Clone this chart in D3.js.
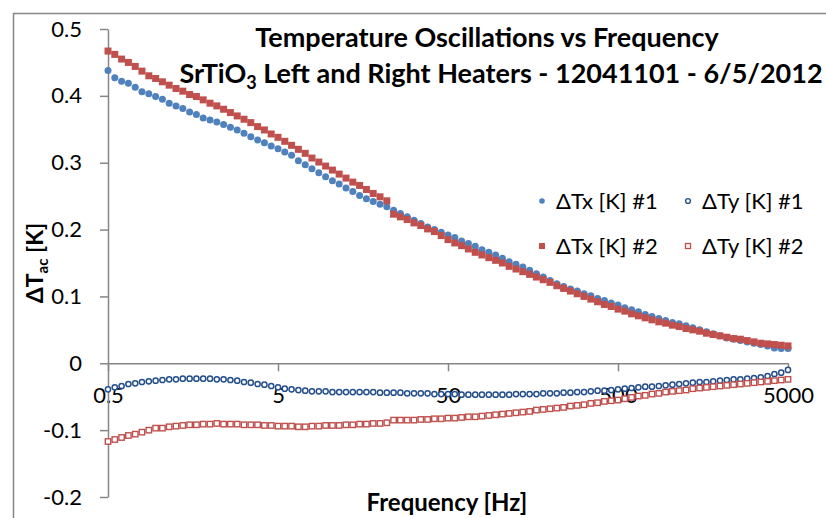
<!DOCTYPE html>
<html>
<head>
<meta charset="utf-8">
<script src="https://cdn.jsdelivr.net/npm/d3@7"></script>
<style>
  body { margin: 0; background: #fff; }
  text { font-family: Lato, "Open Sans", sans-serif; fill: #000; }
</style>
</head>
<body>
<div id="chart"></div>
<script>
// data
var freq = [0.5, 0.548, 0.601, 0.659, 0.723, 0.792, 0.869, 0.953, 1.045, 1.145,
  1.256, 1.377, 1.51, 1.656, 1.815, 1.991, 2.183, 2.393, 2.624, 2.877,
  3.155, 3.459, 3.793, 4.159, 4.56, 5, 5.48, 6.01, 6.59, 7.23,
  7.92, 8.69, 9.53, 10.45, 11.45, 12.56, 13.77, 15.1, 16.56, 18.15,
  19.91, 21.83, 23.93, 26.24, 28.77, 31.55, 34.59, 37.93, 41.59, 45.6,
  50, 54.8, 60.1, 65.9, 72.3, 79.2, 86.9, 95.3, 104.5, 114.5,
  125.6, 137.7, 151, 165.6, 181.5, 199.1, 218.3, 239.3, 262.4, 287.7,
  315.5, 345.9, 379.3, 415.9, 456, 500, 548, 601, 659, 723,
  792, 869, 953, 1045, 1145, 1256, 1377, 1510, 1656, 1815,
  1991, 2183, 2393, 2624, 2877, 3155, 3459, 3793, 4159, 4560,
  5000];

var dTx1 = [0.438, 0.427, 0.422, 0.419, 0.413, 0.406, 0.403, 0.399, 0.395, 0.389,
  0.385, 0.381, 0.376, 0.372, 0.367, 0.364, 0.361, 0.357, 0.353, 0.349,
  0.344, 0.339, 0.334, 0.330, 0.325, 0.321, 0.316, 0.311, 0.303, 0.297,
  0.291, 0.285, 0.279, 0.273, 0.268, 0.262, 0.257, 0.251, 0.246, 0.242,
  0.238, 0.234, 0.229, 0.224, 0.219, 0.214, 0.209, 0.204, 0.200, 0.196,
  0.192, 0.188, 0.183, 0.179, 0.175, 0.170, 0.166, 0.162, 0.157, 0.152,
  0.148, 0.144, 0.139, 0.134, 0.129, 0.124, 0.119, 0.115, 0.111, 0.108,
  0.104, 0.101, 0.097, 0.094, 0.090, 0.087, 0.083, 0.080, 0.077, 0.073,
  0.070, 0.067, 0.064, 0.061, 0.059, 0.056, 0.053, 0.050, 0.047, 0.044,
  0.041, 0.038, 0.036, 0.034, 0.032, 0.030, 0.028, 0.026, 0.023, 0.022,
  0.022];

var dTy1 = [-0.039, -0.036, -0.034, -0.031, -0.030, -0.028, -0.027, -0.026, -0.025, -0.024,
  -0.024, -0.023, -0.023, -0.023, -0.023, -0.023, -0.024, -0.024, -0.025, -0.026,
  -0.028, -0.029, -0.031, -0.032, -0.034, -0.036, -0.038, -0.039, -0.040, -0.041,
  -0.042, -0.042, -0.042, -0.043, -0.043, -0.043, -0.043, -0.043, -0.043, -0.043,
  -0.044, -0.044, -0.044, -0.044, -0.045, -0.045, -0.045, -0.045, -0.046, -0.046,
  -0.046, -0.046, -0.047, -0.047, -0.047, -0.047, -0.047, -0.047, -0.047, -0.047,
  -0.046, -0.046, -0.046, -0.046, -0.045, -0.045, -0.045, -0.044, -0.044, -0.043,
  -0.043, -0.042, -0.041, -0.041, -0.040, -0.039, -0.038, -0.037, -0.036, -0.035,
  -0.035, -0.034, -0.033, -0.032, -0.031, -0.030, -0.029, -0.028, -0.028, -0.027,
  -0.026, -0.025, -0.024, -0.024, -0.023, -0.022, -0.021, -0.019, -0.016, -0.014,
  -0.010];

var dTx2 = [0.467, 0.462, 0.455, 0.450, 0.444, 0.437, 0.430, 0.426, 0.421, 0.416,
  0.411, 0.407, 0.402, 0.399, 0.394, 0.389, 0.385, 0.380, 0.375, 0.370,
  0.365, 0.360, 0.354, 0.349, 0.343, 0.338, 0.332, 0.326, 0.320, 0.314,
  0.307, 0.301, 0.295, 0.289, 0.283, 0.277, 0.271, 0.266, 0.260, 0.254,
  0.249, 0.243, 0.223, 0.219, 0.215, 0.210, 0.206, 0.201, 0.197, 0.191,
  0.185, 0.180, 0.176, 0.171, 0.166, 0.162, 0.158, 0.154, 0.150, 0.145,
  0.141, 0.137, 0.133, 0.129, 0.125, 0.121, 0.116, 0.112, 0.108, 0.104,
  0.100, 0.096, 0.092, 0.088, 0.085, 0.081, 0.078, 0.074, 0.071, 0.068,
  0.065, 0.062, 0.060, 0.057, 0.055, 0.052, 0.050, 0.048, 0.045, 0.043,
  0.041, 0.039, 0.037, 0.036, 0.034, 0.032, 0.030, 0.029, 0.028, 0.027,
  0.026];

var dTy2 = [-0.117, -0.114, -0.111, -0.108, -0.106, -0.103, -0.100, -0.097, -0.097, -0.095,
  -0.094, -0.093, -0.092, -0.092, -0.091, -0.091, -0.090, -0.091, -0.091, -0.091,
  -0.092, -0.092, -0.092, -0.093, -0.093, -0.094, -0.094, -0.094, -0.095, -0.095,
  -0.094, -0.094, -0.093, -0.093, -0.093, -0.092, -0.092, -0.091, -0.091, -0.090,
  -0.090, -0.089, -0.085, -0.085, -0.085, -0.085, -0.084, -0.084, -0.083, -0.083,
  -0.082, -0.082, -0.081, -0.080, -0.080, -0.079, -0.078, -0.077, -0.076, -0.075,
  -0.074, -0.073, -0.072, -0.070, -0.069, -0.068, -0.067, -0.066, -0.064, -0.063,
  -0.062, -0.060, -0.059, -0.057, -0.056, -0.055, -0.053, -0.051, -0.049, -0.048,
  -0.046, -0.045, -0.043, -0.042, -0.041, -0.040, -0.038, -0.037, -0.036, -0.035,
  -0.034, -0.033, -0.032, -0.031, -0.030, -0.029, -0.028, -0.027, -0.026, -0.025,
  -0.024];

var xTicks = [0.5, 5, 50, 500, 5000];
var yTicks = [-0.2, -0.1, 0, 0.1, 0.2, 0.3, 0.4, 0.5];
var seriesNames = ["ΔTx [K] #1", "ΔTy [K] #1", "ΔTx [K] #2", "ΔTy [K] #2"];

var svgWidth = 826;
var svgHeight = 518;

var blue = "#4f81bd";
var navy = "#254f8c";
var red = "#c0504d";
var axisGray = "#868686";

var svg = d3.select("#chart")
  .append("svg")
  .attr("width", svgWidth)
  .attr("height", svgHeight);

// chart border
svg.append("rect")
  .attr("x", 13.5).attr("y", 13.5)
  .attr("width", 830).attr("height", 530)
  .attr("fill", "none")
  .attr("stroke", axisGray)
  .attr("stroke-width", 1.5);

// scales
var x = d3.scaleLog().domain([0.5, 5000]).range([108, 788]);
var y = d3.scaleLinear().domain([-0.2, 0.5]).range([497, 29]);

// axes
var xAxis = svg.append("g")
  .attr("transform", `translate(0, ${y(0)})`)
  .call(d3.axisBottom(x).tickValues(xTicks).tickFormat(d => String(d))
    .tickSize(8).tickSizeOuter(0).tickPadding(16));

var yAxis = svg.append("g")
  .attr("transform", `translate(${x(0.5)}, 0)`)
  .call(d3.axisLeft(y).tickValues(yTicks).tickFormat(d => String(d))
    .tickSize(8).tickSizeOuter(0).tickPadding(18));

[xAxis, yAxis].forEach(function(g) {
  g.select(".domain").attr("stroke", axisGray).attr("stroke-width", 1.5);
  g.selectAll(".tick line").attr("stroke", axisGray).attr("stroke-width", 1.5);
  g.selectAll(".tick text")
    .attr("font-family", "Lato, sans-serif")
    .attr("font-size", 22)
    .attr("fill", "#000");
});

// series
var pts = freq.map(function(f, i) {
  return {f: f, tx1: dTx1[i], ty1: dTy1[i], tx2: dTx2[i], ty2: dTy2[i]};
});

svg.append("g").selectAll("circle")
  .data(pts).enter().append("circle")
  .attr("cx", d => x(d.f)).attr("cy", d => y(d.tx1))
  .attr("r", 3.5).attr("fill", blue);

svg.append("g").selectAll("circle")
  .data(pts).enter().append("circle")
  .attr("cx", d => x(d.f)).attr("cy", d => y(d.ty1))
  .attr("r", 2.6).attr("fill", "#fff")
  .attr("stroke", navy).attr("stroke-width", 1.5);

svg.append("g").selectAll("rect")
  .data(pts).enter().append("rect")
  .attr("x", d => x(d.f) - 3.5).attr("y", d => y(d.tx2) - 3.5)
  .attr("width", 7).attr("height", 7).attr("fill", red);

svg.append("g").selectAll("rect")
  .data(pts).enter().append("rect")
  .attr("x", d => x(d.f) - 2.7).attr("y", d => y(d.ty2) - 2.7)
  .attr("width", 5.4).attr("height", 5.4).attr("fill", "#fff")
  .attr("stroke", red).attr("stroke-width", 1.4);

// title
var title = svg.append("text")
  .attr("font-weight", "bold")
  .attr("font-size", 27)
  .attr("text-anchor", "middle");
title.append("tspan").attr("x", 487).attr("y", 47).text("Temperature Oscillations vs Frequency");
var t2 = title.append("tspan").attr("x", 501).attr("y", 83);
t2.append("tspan").text("SrTiO");
t2.append("tspan").attr("font-size", 18).attr("dy", 6).text("3");
t2.append("tspan").attr("dy", -6).text(" Left and Right Heaters - 12041101 - 6/5/2012");

// axis titles
svg.append("text")
  .attr("x", 447).attr("y", 511)
  .attr("text-anchor", "middle")
  .attr("font-weight", "bold").attr("font-size", 24)
  .text("Frequency [Hz]");

var yt = svg.append("text")
  .attr("transform", "translate(43, 263) rotate(-90)")
  .attr("text-anchor", "middle")
  .attr("font-weight", "bold").attr("font-size", 23);
yt.append("tspan").text("ΔT");
yt.append("tspan").attr("font-size", 15).attr("dy", 5).text("ac");
yt.append("tspan").attr("dy", -5).text(" [K]");

// legend
var legendPos = [[542, 201], [688, 201], [542, 246], [688, 246]];
var legend = svg.append("g");
seriesNames.forEach(function(name, i) {
  var p = legendPos[i];
  if (i === 0) {
    legend.append("circle").attr("cx", p[0]).attr("cy", p[1]).attr("r", 2.8).attr("fill", blue);
  } else if (i === 1) {
    legend.append("circle").attr("cx", p[0]).attr("cy", p[1]).attr("r", 2.4)
      .attr("fill", "#fff").attr("stroke", navy).attr("stroke-width", 1.4);
  } else if (i === 2) {
    legend.append("rect").attr("x", p[0] - 3).attr("y", p[1] - 3)
      .attr("width", 6).attr("height", 6).attr("fill", red);
  } else {
    legend.append("rect").attr("x", p[0] - 2.5).attr("y", p[1] - 2.5)
      .attr("width", 5).attr("height", 5).attr("fill", "#fff")
      .attr("stroke", red).attr("stroke-width", 1.3);
  }
  legend.append("text")
    .attr("x", p[0] + 14).attr("y", p[1])
    .attr("dy", "0.36em")
    .attr("font-size", 22)
    .text(name);
});
</script>
</body>
</html>
